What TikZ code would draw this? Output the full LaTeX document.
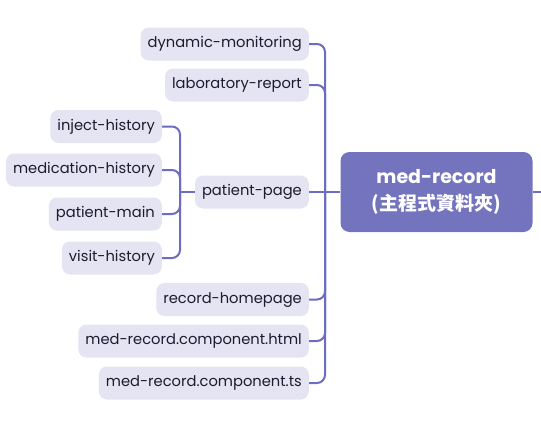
\documentclass[tikz,border=0pt]{standalone}
\usepackage{fontspec}
\setmainfont{Poppins}
\newfontfamily\cjk{Noto Sans CJK TC}
\definecolor{leaf}{HTML}{E4E4F2}
\definecolor{edge}{HTML}{6C6CC0}
\definecolor{rootc}{HTML}{7474BE}
\definecolor{txt}{HTML}{1C1C30}
\begin{document}
\begin{tikzpicture}[x=1pt,y=-1pt,
  leafbox/.style={fill=leaf,rounded corners=8pt,minimum height=33pt,inner xsep=7pt,inner ysep=0pt,text height=10.5pt,text depth=3pt,text=txt,font=\fontsize{14.7}{16}\selectfont,anchor=east},
  conn/.style={draw=edge,line width=2pt,rounded corners=8pt}]
\useasboundingbox (0,0) rectangle (541,423);
\node[fill=rootc,rounded corners=9pt,minimum width=192pt,minimum height=80pt,text=white,align=center,font=\fontsize{19}{27}\selectfont\bfseries] (main) at (436.5,192) {med-record\\{\cjk (主程式資料夾)}};
\coordinate (j) at (325,192);
\coordinate (k) at (180,192);
\coordinate (rend) at (541,192);
\node[leafbox] (dm) at (309,44) {dynamic-monitoring};
\node[leafbox] (lr) at (309,85) {laboratory-report};
\node[leafbox] (pp) at (309,192) {patient-page};
\node[leafbox] (rh) at (309,299.5) {record-homepage};
\node[leafbox] (mh) at (309,341) {med-record.component.html};
\node[leafbox] (mt) at (309,383) {med-record.component.ts};
\node[leafbox] (ih) at (162,126.5) {inject-history};
\node[leafbox] (md) at (162,170) {medication-history};
\node[leafbox] (pm) at (162,214) {patient-main};
\node[leafbox] (vh) at (162,258) {visit-history};
\foreach \n in {dm,lr,rh,mh,mt} \draw[conn] (\n.east) -| (j);
\foreach \n in {ih,md,pm,vh} \draw[conn] (\n.east) -| (k);
\draw[conn] (pp.east) -- (main.west);
\draw[conn] (pp.west) -- (k);
\draw[conn] (main.east) -- (rend);
\end{tikzpicture}
\end{document}
